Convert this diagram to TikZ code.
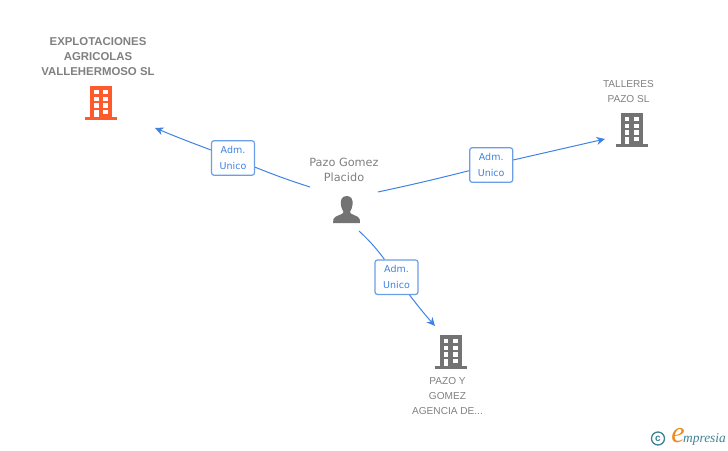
\documentclass[tikz,border=0pt]{standalone}
\usepackage{fontspec}
\setmainfont{Liberation Sans}
\newfontfamily\dejavu{DejaVu Sans}
\newfontfamily\logofont{Liberation Serif}
\usetikzlibrary{positioning,arrows.meta}
\definecolor{linkblue}{HTML}{3F82E4}
\definecolor{boxblue}{HTML}{6A9FE8}
\definecolor{icongray}{HTML}{737373}
\definecolor{textgray}{HTML}{808080}
\definecolor{iconred}{HTML}{FF5A2B}
\definecolor{logoteal}{HTML}{3D8296}
\definecolor{logoorange}{HTML}{EE8A1E}
\tikzset{
  link/.style = {draw=linkblue, line width=1pt},
  linkarrow/.style = {link, -{Stealth[length=8.5pt,width=8pt]}},
  rolebox/.style = {draw=boxblue, line width=1.2pt, rounded corners=2.5pt, fill=white,
    minimum width=43pt, minimum height=34.5pt, inner sep=0pt, align=center,
    text=linkblue, font=\dejavu\fontsize{9.5}{15.5}\selectfont},
  namelabel/.style = {align=center, text=textgray, inner sep=0pt,
    font=\fontsize{10.1}{15}\selectfont},
  mainlabel/.style = {namelabel, font=\bfseries\fontsize{11.4}{15}\selectfont},
  personlabel/.style = {namelabel, font=\dejavu\fontsize{11.3}{15}\selectfont},
  building/.pic = {
    % origin is the top left corner of the body
    \fill[pic actions] (0,0) rectangle (22,31);
    \fill[pic actions] (-5,31) rectangle (27,34);
    \foreach \wy in {4,10.7,17.3} {
      \fill[white] (4,\wy) rectangle +(4.5,4.4);
      \fill[white] (13.3,\wy) rectangle +(4.8,4.4);
    }
    \fill[white] (4,23.7) rectangle (8.5,31);
    \fill[white] (13.3,23.7) rectangle +(4.8,4.6);
  }
}
\begin{document}
\begin{tikzpicture}[x=1pt, y=-1pt]
    \useasboundingbox (0,0) rectangle (728,450);
    % company names
    \node[mainlabel] (explotaciones) at (98,57) {EXPLOTACIONES\\AGRICOLAS\\VALLEHERMOSO SL};
    \node[namelabel] (talleres) at (628.5,91.5) {TALLERES\\PAZO SL};
    \node[namelabel] (agencia) at (447.5,396.5) {PAZO Y\\GOMEZ\\AGENCIA DE...};
    \node[personlabel] (pazo) at (344,169.5) {Pazo Gomez\\Placido};
    % icons
    \pic[fill=iconred] at (90,86) {building};
    \pic[fill=icongray] at (620.5,113) {building};
    \pic[fill=icongray] at (439.5,335) {building};
    \fill[icongray] (346.7,196) .. controls (342,196) and (340.3,200) .. (340.8,204)
        .. controls (341.2,208) and (342.5,210) .. (343.5,212)
        .. controls (343.5,215) and (335,215) .. (333.5,219)
        -- (333,223) -- (360,223) -- (359.7,219)
        .. controls (358,215) and (350,215) .. (350,212)
        .. controls (351,210) and (352.2,208) .. (352.6,204)
        .. controls (353,200) and (351.4,196) .. (346.7,196) -- cycle;
    % free ends of the connectors
    \coordinate (startexp) at (310,187);
    \coordinate (endexp) at (155,128);
    \coordinate (starttal) at (378,192);
    \coordinate (endtal) at (605,139);
    \coordinate (startage) at (359,231);
    \coordinate (endage) at (435,326);
    % role boxes
    \node[rolebox] (admexp) at (233,158) {Adm.\\Unico};
    \node[rolebox] (admtal) at (491.2,165) {Adm.\\Unico};
    \node[rolebox] (admage) at (396.5,277.2) {Adm.\\Unico};
    % connectors
    \draw[link] (startexp) to[bend left=2] (admexp);
    \draw[linkarrow] (admexp) to[bend left=1] (endexp);
    \draw[link] (starttal) to[bend right=1] (admtal);
    \draw[linkarrow] (admtal) to (endtal);
    \draw[link] (startage) to[bend left=5] (admage);
    \draw[linkarrow] (admage) to[bend right=2] (endage);
    % logo
    \node[circle, draw=logoteal, line width=1.3pt, text=logoteal, inner sep=0pt,
      minimum size=13pt, font=\bfseries\fontsize{10}{10}\selectfont] (copyright) at (658,438.5) {c};
    \node[text=logoorange, inner sep=0pt, font=\logofont\itshape\fontsize{30}{30}\selectfont]
      (logoe) at (678,435.5) {e};
    \node[anchor=base west, text=logoteal, inner sep=0pt,
      font=\logofont\itshape\fontsize{13.4}{13.4}\selectfont] (logotext) at (683,442.5) {mpresia};
\end{tikzpicture}
\end{document}
